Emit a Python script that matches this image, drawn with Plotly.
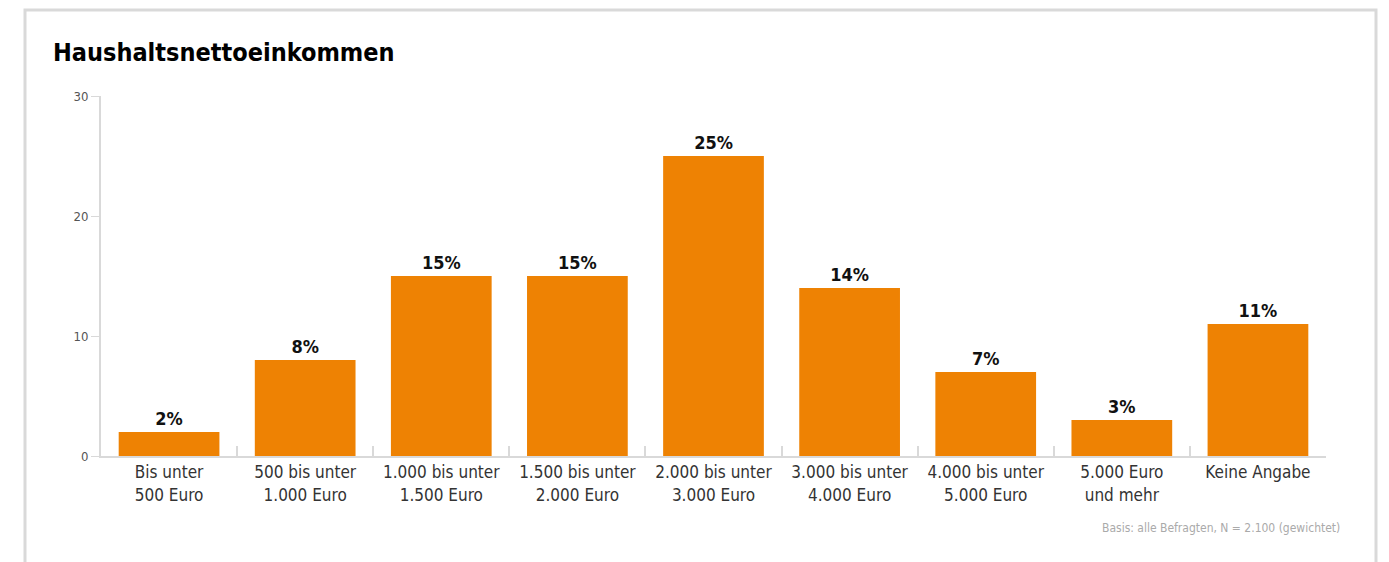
import plotly.graph_objects as go

# Household net income distribution (percent of respondents)
categories = [
    "Bis unter<br>500 Euro",
    "500 bis unter<br>1.000 Euro",
    "1.000 bis unter<br>1.500 Euro",
    "1.500 bis unter<br>2.000 Euro",
    "2.000 bis unter<br>3.000 Euro",
    "3.000 bis unter<br>4.000 Euro",
    "4.000 bis unter<br>5.000 Euro",
    "5.000 Euro<br>und mehr",
    "Keine Angabe",
]
shares = [2, 8, 15, 15, 25, 14, 7, 3, 11]
y_ticks = [0, 10, 20, 30]

ORANGE = "#EE8203"
NARROW = "DejaVu Sans Condensed, Liberation Sans Narrow, sans-serif"

W, H = 1389, 562
L, R, T, B = 101, 63, 96, 106

fig = go.Figure(
    go.Bar(
        x=categories,
        y=shares,
        marker=dict(color=ORANGE, line=dict(width=0)),
        text=[f"<b>{v}%</b>" for v in shares],
        textposition="outside",
        textfont=dict(family=NARROW, size=18, color="#111111"),
        cliponaxis=False,
        hoverinfo="skip",
    )
)

# outer frame around the chart, expressed in paper coordinates
pw, ph = W - L - R, H - T - B
def px_x(px):
    return (px - L) / pw
def px_y(py):
    return (H - B - py) / ph

fig.add_shape(
    type="rect", xref="paper", yref="paper",
    x0=px_x(25), x1=px_x(1376), y0=px_y(575), y1=px_y(10),
    line=dict(color="#d9d9d9", width=3), layer="below",
)

fig.add_annotation(
    text="<b>Haushaltsnettoeinkommen</b>",
    xref="paper", yref="paper", x=px_x(51), y=px_y(52),
    xanchor="left", yanchor="middle", showarrow=False,
    font=dict(family=NARROW, size=25, color="#000000"),
)
fig.add_annotation(
    text="Basis: alle Befragten, N = 2.100 (gewichtet)",
    xref="paper", yref="paper", x=px_x(1342), y=px_y(528),
    xanchor="right", yanchor="middle", showarrow=False,
    font=dict(family=NARROW, size=12, color="#aaaaaa"),
)

fig.update_layout(
    width=W, height=H,
    margin=dict(l=L, r=R, t=T, b=B, autoexpand=False),
    paper_bgcolor="white", plot_bgcolor="white",
    bargap=0.26,
    showlegend=False,
    xaxis=dict(
        showgrid=False, showline=True, linecolor="#d9d9d9", linewidth=2,
        ticks="inside", tickson="boundaries", ticklen=10, tickcolor="#d9d9d9",
        tickwidth=2,
        tickfont=dict(family=NARROW, size=17, color="#333333"),
        fixedrange=True,
    ),
    yaxis=dict(
        range=[0, 30], tickvals=y_ticks, showgrid=False, zeroline=False,
        showline=True, linecolor="#d9d9d9", linewidth=2,
        ticks="outside", ticklen=8, tickcolor="#d9d9d9", tickwidth=1,
        tickfont=dict(family=NARROW, size=13, color="#555555"),
        fixedrange=True,
    ),
)

fig.write_html("out.html")
